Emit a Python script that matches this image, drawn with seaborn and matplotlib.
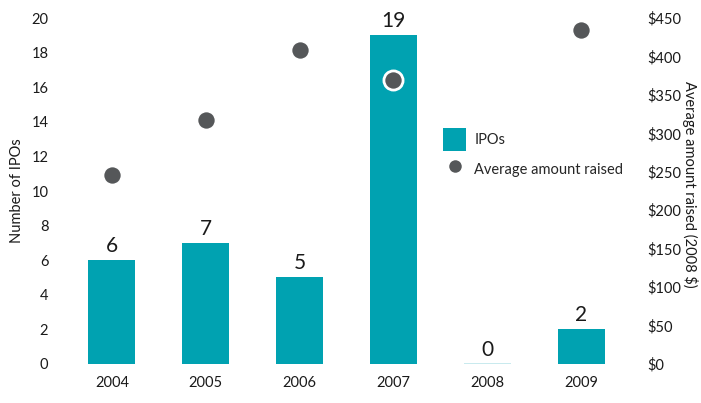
import matplotlib
matplotlib.use("Agg")
import matplotlib.pyplot as plt
import seaborn as sns
import pandas as pd
from matplotlib.lines import Line2D
from matplotlib.patches import Patch

years = ["2004", "2005", "2006", "2007", "2008", "2009"]
ipos = [6, 7, 5, 19, 0, 2]
avg_years = ["2004", "2005", "2006", "2007", "2009"]
avg_values = [246, 317, 408, 369, 434]
left_ticks = [0, 2, 4, 6, 8, 10, 12, 14, 16, 18, 20]
right_ticks = [0, 50, 100, 150, 200, 250, 300, 350, 400, 450]

sns.set_theme(style="white")
plt.rcParams['font.family'] = ['Lato', 'DejaVu Sans']

teal = "#00a2b1"
dot = "#555759"
txt = "#1a1a1a"

fig = plt.figure(figsize=(7.01, 4.03), dpi=100)
ax = fig.add_axes([0.0927, 0.0968, 0.8033, 0.8585])

df = pd.DataFrame({"year": years, "ipos": ipos})
sns.barplot(data=df, x="year", y="ipos", color=teal, width=0.5, saturation=1, ax=ax)
for p, v in zip(ax.patches, ipos):
    if v == 0:
        p.set_edgecolor("#bfe6eb")
        p.set_linewidth(1.2)
    else:
        p.set_linewidth(0)
for i, v in enumerate(ipos):
    ax.text(i, v + 0.25, str(v), ha="center", va="bottom", fontsize=15, color=txt)

ax.set_ylim(0, 20)
ax.set_xlim(-0.5, 5.5)
ax.set_yticks(left_ticks)
ax.set_ylabel("Number of IPOs", fontsize=10.5, color=txt, va="center")
ax.yaxis.set_label_coords(-0.085, 0.5)
ax.set_xlabel("")
ax.tick_params(axis="y", labelsize=10.5, colors=txt, length=0, pad=12)
ax.tick_params(axis="x", labelsize=10.5, colors=txt, length=0, pad=9)
for s in ax.spines.values():
    s.set_visible(False)

ax2 = ax.twinx()
df2 = pd.DataFrame({"year": [years.index(y) for y in avg_years], "avg": avg_values})
sns.scatterplot(data=df2, x="year", y="avg", color=dot, s=190, edgecolor="white", linewidth=2, ax=ax2, zorder=5)
ax2.set_ylim(0, 450)
ax2.set_yticks(right_ticks)
ax2.set_yticklabels([f"${t}" for t in right_ticks])
ax2.set_ylabel("Average amount raised (2008 $)", fontsize=10.5, color=txt, rotation=270, va="center")
ax2.yaxis.set_label_coords(1.11, 0.52)
ax2.tick_params(axis="y", labelsize=10.5, colors=txt, length=0, pad=14)
ax2.set_xlim(-0.5, 5.5)
ax2.set_xlabel("")
for s in ax2.spines.values():
    s.set_visible(False)
ax2.grid(False)

handles = [Patch(facecolor=teal, edgecolor="none"),
           Line2D([0], [0], marker="o", color="none", markerfacecolor=dot, markeredgecolor="none", markersize=9)]
ax2.legend(handles, ["IPOs", "Average amount raised"], loc="upper left", bbox_to_anchor=(0.648, 0.72),
           frameon=False, fontsize=10.5, handlelength=1.6, handleheight=2.1, labelspacing=0.45, handletextpad=0.55)

fig.savefig("out.png", dpi=100)
